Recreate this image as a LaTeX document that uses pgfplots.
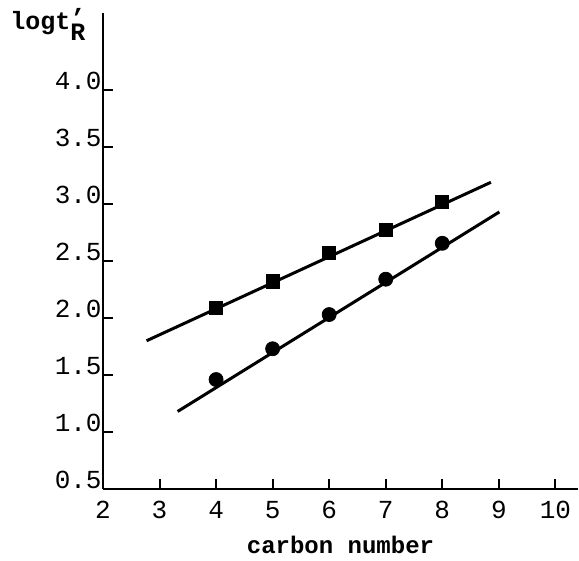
\documentclass[border=0pt]{standalone}
\usepackage{pgfplots}
\pgfplotsset{compat=1.18}
\usepackage{fontspec}
\setmainfont{Liberation Mono}

\begin{document}
\begin{tikzpicture}
  \useasboundingbox (-51.5pt,-36pt) rectangle (238pt,244.5pt);
  \begin{axis}[
      scale only axis,
      width=237.5pt,
      height=238pt,
      xmin=2, xmax=10.4,
      ymin=0.5, ymax=4.675,
      axis lines=left,
      axis line style={-, line width=1.4pt},
      xtick={2,3,4,5,6,7,8,9,10},
      xticklabels={2,3,4,5,6,7,8,9,10},
      ytick={0.5,1.0,1.5,2.0,2.5,3.0,3.5,4.0},
      yticklabels={0.5,1.0,1.5,2.0,2.5,3.0,3.5,4.0},
      tick align=inside,
      major tick length=5pt,
      tick style={line width=1pt, black},
      tick label style={font=\fontsize{13}{13}\selectfont},
      yticklabel style={anchor=base east, inner xsep=0.5pt, inner ysep=0pt},
      xticklabel style={anchor=north, inner sep=0pt, yshift=-6pt},
      xlabel={\textbf{carbon number}},
      xlabel style={at={(axis description cs:0.5,0)}, anchor=base, yshift=-32.5pt,
                    font=\fontsize{12}{12}\selectfont},
    ]
    % fitted lines
    \addplot[black, line width=1.5pt] coordinates {(2.77,1.80) (8.86,3.19)};
    \addplot[black, line width=1.5pt] coordinates {(3.32,1.18) (9.01,2.93)};
    % measured points
    \addplot[only marks, mark=square*, mark size=3.3pt, black]
      coordinates {(4,2.09) (5,2.32) (6,2.57) (7,2.77) (8,3.02)};
    \addplot[only marks, mark=*, mark size=3.5pt, black]
      coordinates {(4,1.46) (5,1.73) (6,2.03) (7,2.34) (8,2.655)};
  \end{axis}
  \node[anchor=base west, inner sep=0pt, font=\fontsize{12.5}{12.5}\selectfont\bfseries]
    at (-46.5pt,229.5pt) {logt\raisebox{0.3ex}{'}\kern-0.6em\raisebox{-0.8ex}{R}};
\end{tikzpicture}
\end{document}
